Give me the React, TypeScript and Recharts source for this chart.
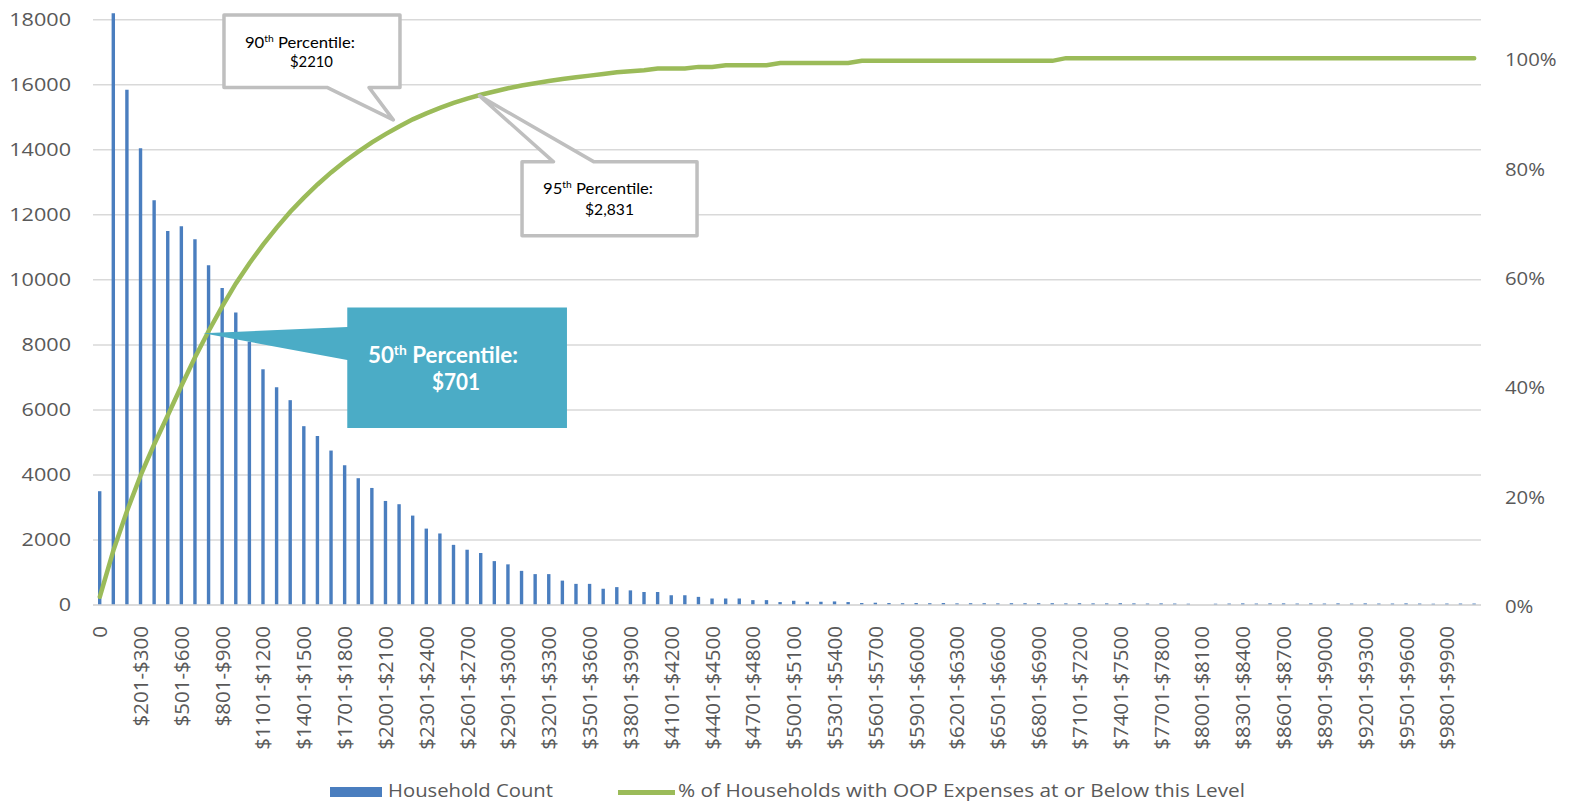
import {
  ComposedChart,
  Bar,
  Line,
  XAxis,
  YAxis,
  CartesianGrid,
  Legend,
  ReferenceDot,
} from 'recharts'

// Out-of-pocket expense buckets: a zero bucket, then $100 bands
const buckets = [
  '0', '$1-$100', '$101-$200', '$201-$300', '$301-$400', '$401-$500', '$501-$600', '$601-$700', '$701-$800', '$801-$900',
  '$901-$1000', '$1001-$1100', '$1101-$1200', '$1201-$1300', '$1301-$1400', '$1401-$1500', '$1501-$1600', '$1601-$1700', '$1701-$1800', '$1801-$1900',
  '$1901-$2000', '$2001-$2100', '$2101-$2200', '$2201-$2300', '$2301-$2400', '$2401-$2500', '$2501-$2600', '$2601-$2700', '$2701-$2800', '$2801-$2900',
  '$2901-$3000', '$3001-$3100', '$3101-$3200', '$3201-$3300', '$3301-$3400', '$3401-$3500', '$3501-$3600', '$3601-$3700', '$3701-$3800', '$3801-$3900',
  '$3901-$4000', '$4001-$4100', '$4101-$4200', '$4201-$4300', '$4301-$4400', '$4401-$4500', '$4501-$4600', '$4601-$4700', '$4701-$4800', '$4801-$4900',
  '$4901-$5000', '$5001-$5100', '$5101-$5200', '$5201-$5300', '$5301-$5400', '$5401-$5500', '$5501-$5600', '$5601-$5700', '$5701-$5800', '$5801-$5900',
  '$5901-$6000', '$6001-$6100', '$6101-$6200', '$6201-$6300', '$6301-$6400', '$6401-$6500', '$6501-$6600', '$6601-$6700', '$6701-$6800', '$6801-$6900',
  '$6901-$7000', '$7001-$7100', '$7101-$7200', '$7201-$7300', '$7301-$7400', '$7401-$7500', '$7501-$7600', '$7601-$7700', '$7701-$7800', '$7801-$7900',
  '$7901-$8000', '$8001-$8100', '$8101-$8200', '$8201-$8300', '$8301-$8400', '$8401-$8500', '$8501-$8600', '$8601-$8700', '$8701-$8800', '$8801-$8900',
  '$8901-$9000', '$9001-$9100', '$9101-$9200', '$9201-$9300', '$9301-$9400', '$9401-$9500', '$9501-$9600', '$9601-$9700', '$9701-$9800', '$9801-$9900',
  '$9901-$10000', '$10001+',
]

const householdCounts = [
  3500, 18200, 15850, 14050, 12450, 11500, 11650, 11250, 10450, 9750,
  9000, 8100, 7250, 6700, 6300, 5500, 5200, 4750, 4300, 3900,
  3600, 3200, 3100, 2750, 2350, 2200, 1850, 1700, 1600, 1350,
  1250, 1050, 950, 950, 750, 650, 650, 500, 550, 450,
  400, 400, 300, 300, 250, 200, 200, 200, 150, 150,
  90, 130, 100, 100, 110, 90, 60, 70, 60, 55,
  60, 55, 60, 50, 55, 55, 50, 55, 50, 55,
  55, 50, 55, 50, 50, 55, 50, 45, 50, 45,
  40, 0, 40, 45, 50, 45, 50, 50, 45, 50,
  45, 50, 45, 50, 45, 45, 50, 45, 40, 45,
  45, 45,
]

// share of households at or below each bucket
const cumulativeShare = [
  0.015, 0.1, 0.172, 0.237, 0.294, 0.347, 0.401, 0.453, 0.501, 0.546,
  0.588, 0.625, 0.659, 0.69, 0.719, 0.745, 0.769, 0.791, 0.811, 0.829,
  0.846, 0.861, 0.875, 0.888, 0.899, 0.909, 0.918, 0.926, 0.933, 0.939,
  0.945, 0.95, 0.954, 0.958, 0.962, 0.965, 0.968, 0.971, 0.974, 0.976,
  0.978, 0.981, 0.981, 0.981, 0.984, 0.984, 0.987, 0.987, 0.987, 0.987,
  0.991, 0.991, 0.991, 0.991, 0.991, 0.991, 0.995, 0.995, 0.995, 0.995,
  0.995, 0.995, 0.995, 0.995, 0.995, 0.995, 0.995, 0.995, 0.995, 0.995,
  0.995, 1, 1, 1, 1, 1, 1, 1, 1, 1,
  1, 1, 1, 1, 1, 1, 1, 1, 1, 1,
  1, 1, 1, 1, 1, 1, 1, 1, 1, 1,
  1, 1,
]

const countTicks = [0, 2000, 4000, 6000, 8000, 10000, 12000, 14000, 16000, 18000]
const shareTicks = [0, 0.2, 0.4, 0.6, 0.8, 1]

const percentileNotes = [
  { rank: '50', amount: '$701', bucket: '$701-$800', share: 0.5 },
  { rank: '90', amount: '$2210', bucket: '$2201-$2300', share: 0.9 },
  { rank: '95', amount: '$2,831', bucket: '$2801-$2900', share: 0.95 },
]

const BAR_BLUE = '#4A7EBF'
const LINE_GREEN = '#9BBB59'
const AXIS_INK = '#595959'
const GRID = '#D9D9D9'

type Pt = [number, number]

interface CalloutLook {
  shape: Pt[] // box plus pointer, relative to the anchor
  fill: string
  stroke: string
  ink: string
  size: number
  weight: number
  head: [number, number, number] // x, baseline, width
  foot: [number, number, number]
}

const calloutLooks: Record<string, CalloutLook> = {
  '50': {
    shape: [[138.6, -24.1], [358.3, -24.1], [358.3, 96.4], [138.6, 96.4], [138.6, 28.4], [-5.4, 1.7], [138.6, -4.6]],
    fill: '#4BACC6',
    stroke: 'none',
    ink: '#FFFFFF',
    size: 22,
    weight: 700,
    head: [234.3, 31.4, 150],
    foot: [247.3, 58.4, 48],
  },
  '90': {
    shape: [[-188.8, -97.9], [-12.8, -97.9], [-12.8, -25.4], [-43.8, -25.4], [-19.5, 7.1], [-85.8, -25.4], [-188.8, -25.4]],
    fill: '#FFFFFF',
    stroke: '#BFBFBF',
    ink: '#000000',
    size: 15.5,
    weight: 400,
    head: [-112.8, -64.9, 110],
    foot: [-101.3, -45.4, 43],
  },
  '95': {
    shape: [[27.6, 76.4], [59.1, 76.4], [-14.9, 10.4], [99.6, 76.4], [202.6, 76.4], [202.6, 150.4], [27.6, 150.4]],
    fill: '#FFFFFF',
    stroke: '#BFBFBF',
    ink: '#000000',
    size: 15.5,
    weight: 400,
    head: [103.6, 108.4, 110],
    foot: [115.1, 129.4, 49],
  },
}

const rows = buckets.map((bucket, i) => ({
  bucket,
  households: householdCounts[i],
  share: cumulativeShare[i],
}))

function Callout({ cx, cy, rank, amount, look }: { cx: number; cy: number; rank: string; amount: string; look: CalloutLook }) {
  const points = look.shape.map(([dx, dy]) => `${cx + dx},${cy + dy}`).join(' ')
  const lift = look.size * 0.38
  const text = {
    fontFamily: 'Lato, sans-serif',
    fontSize: look.size,
    fontWeight: look.weight,
    fill: look.ink,
    textAnchor: 'middle' as const,
    lengthAdjust: 'spacingAndGlyphs',
  }
  return (
    <g>
      <polygon
        points={points}
        fill={look.fill}
        stroke={look.stroke}
        strokeWidth={3.5}
        strokeLinejoin="round"
      />
      <text x={cx + look.head[0]} y={cy + look.head[1]} textLength={look.head[2]} {...text}>
        {rank}
        <tspan fontSize={look.size * 0.62} dy={-lift}>th</tspan>
        <tspan dy={lift}> Percentile:</tspan>
      </text>
      <text x={cx + look.foot[0]} y={cy + look.foot[1]} textLength={look.foot[2]} {...text}>
        {amount}
      </text>
    </g>
  )
}

function BucketTick({ x, y, payload }: any) {
  return (
    <text
      transform={`translate(${x},${y + 21}) rotate(-90)`}
      textAnchor="end"
      dy="0.36em"
      fontFamily="'Open Sans', sans-serif"
      fontSize={20.5}
      fill={AXIS_INK}
    >
      {payload.value}
    </text>
  )
}

function CountTick({ x, y, payload }: any) {
  return (
    <text
      transform={`translate(${x},${y}) scale(1.2,1)`}
      textAnchor="end"
      dy="0.36em"
      fontFamily="'Open Sans', sans-serif"
      fontSize={18}
      fill={AXIS_INK}
    >
      {payload.value}
    </text>
  )
}

function ShareTick({ x, y, payload }: any) {
  return (
    <text
      transform={`translate(${x},${y}) scale(1.13,1)`}
      textAnchor="start"
      dy="0.45em"
      fontFamily="'Open Sans', sans-serif"
      fontSize={18}
      fill={AXIS_INK}
    >
      {`${Math.round(payload.value * 100)}%`}
    </text>
  )
}

function SeriesKey() {
  const label = {
    fontFamily: "'Open Sans', sans-serif",
    fontSize: 19,
    fill: AXIS_INK,
    lengthAdjust: 'spacingAndGlyphs',
  }
  return (
    <svg width={1570} height={34}>
      <rect x={330} y={17} width={52} height={10} fill={BAR_BLUE} />
      <text x={388} y={27} textLength={165} {...label}>Household Count</text>
      <line x1={618} x2={675} y1={22.5} y2={22.5} stroke={LINE_GREEN} strokeWidth={5} />
      <text x={678} y={27} textLength={567} {...label}>
        % of Households with OOP Expenses at or Below this Level
      </text>
    </svg>
  )
}

export default function App() {
  return (
    <div style={{ position: 'absolute', left: 0, top: 0, background: '#fff' }}>
      <ComposedChart
        width={1570}
        height={802}
        data={rows}
        margin={{ top: 10, right: 0, bottom: 47, left: 0 }}
      >
        <CartesianGrid
          yAxisId="count"
          vertical={false}
          syncWithTicks
          stroke={GRID}
          strokeWidth={1.5}
        />
        <XAxis
          dataKey="bucket"
          interval={2}
          height={150}
          tickLine={false}
          tickSize={0}
          tickMargin={0}
          axisLine={{ stroke: GRID, strokeWidth: 1.5 }}
          tick={BucketTick}
        />
        <YAxis
          yAxisId="count"
          width={93}
          domain={[0, 18300]}
          ticks={countTicks}
          axisLine={false}
          tickLine={false}
          tickSize={0}
          tickMargin={22}
          tick={CountTick}
        />
        <YAxis
          yAxisId="share"
          orientation="right"
          width={89}
          domain={[0, 1.088]}
          ticks={shareTicks}
          axisLine={false}
          tickLine={false}
          tickSize={0}
          tickMargin={24}
          tick={ShareTick}
        />
        <Bar
          yAxisId="count"
          dataKey="households"
          name="Household Count"
          fill={BAR_BLUE}
          barSize={3.4}
          isAnimationActive={false}
        />
        <Line
          yAxisId="share"
          dataKey="share"
          name="% of Households with OOP Expenses at or Below this Level"
          type="linear"
          stroke={LINE_GREEN}
          strokeWidth={4.5}
          strokeLinecap="round"
          dot={false}
          activeDot={false}
          isAnimationActive={false}
        />
        {percentileNotes.map((n) => (
          <ReferenceDot
            key={n.rank}
            yAxisId="share"
            x={n.bucket}
            y={n.share}
            r={0}
            ifOverflow="visible"
            shape={(p: any) => (
              <Callout cx={p.cx} cy={p.cy} rank={n.rank} amount={n.amount} look={calloutLooks[n.rank]} />
            )}
          />
        ))}
        <Legend
          verticalAlign="middle"
          align="center"
          layout="horizontal"
          wrapperStyle={{ top: 770, left: 0, width: 1570, height: 34 }}
          content={() => <SeriesKey />}
        />
      </ComposedChart>
    </div>
  )
}
